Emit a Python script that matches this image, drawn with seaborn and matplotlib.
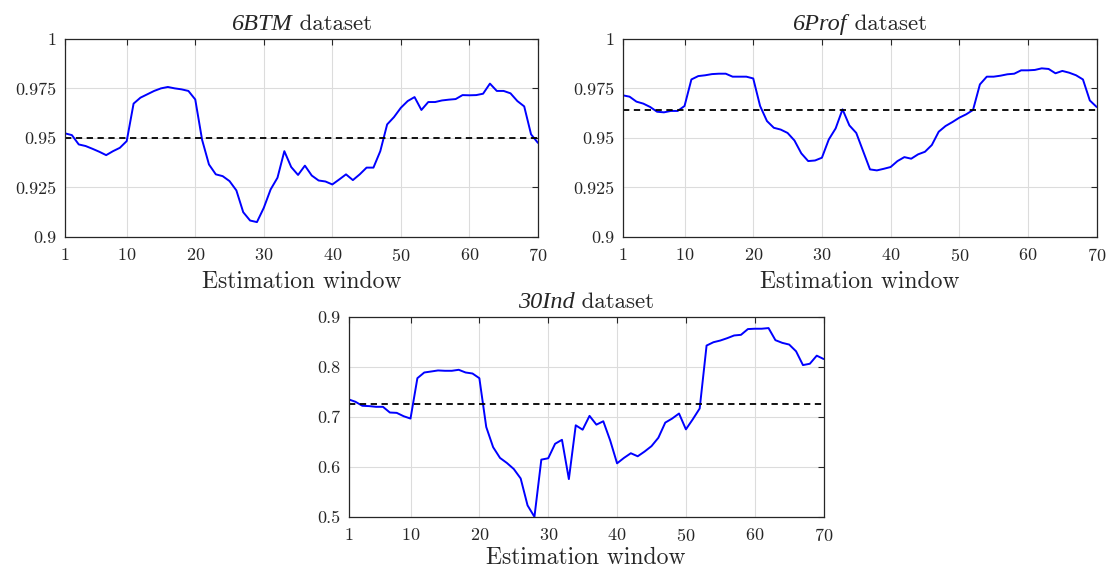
import numpy as np
import pandas as pd
import matplotlib
matplotlib.use('Agg')
import matplotlib.pyplot as plt
from matplotlib.ticker import FuncFormatter
from matplotlib.offsetbox import TextArea, HPacker, AnchoredOffsetbox
import seaborn as sns

# estimation window index
windows = list(range(1, 71))

btm_vals = [0.9523, 0.9514, 0.9467, 0.9459, 0.9445, 0.9430, 0.9413, 0.9433, 0.9450, 0.9484,
            0.9673, 0.9703, 0.9720, 0.9737, 0.9750, 0.9757, 0.9750, 0.9745, 0.9737, 0.9694,
            0.9490, 0.9366, 0.9316, 0.9307, 0.9282, 0.9235, 0.9125, 0.9083, 0.9075, 0.9147,
            0.9240, 0.9299, 0.9433, 0.9353, 0.9313, 0.9360, 0.9310, 0.9285, 0.9280, 0.9265,
            0.9290, 0.9316, 0.9287, 0.9316, 0.9350, 0.9350, 0.9433, 0.9568, 0.9605, 0.9652,
            0.9686, 0.9706, 0.9641, 0.9681, 0.9681, 0.9689, 0.9693, 0.9696, 0.9716, 0.9715,
            0.9716, 0.9723, 0.9774, 0.9737, 0.9737, 0.9725, 0.9686, 0.9659, 0.9518, 0.9475]
btm_ref = 0.95

prof_vals = [0.9715, 0.9708, 0.9683, 0.9673, 0.9656, 0.9632, 0.9629, 0.9636, 0.9636, 0.9661,
             0.9795, 0.9812, 0.9816, 0.9822, 0.9824, 0.9824, 0.9809, 0.9809, 0.9809, 0.9800,
             0.9661, 0.9585, 0.9551, 0.9542, 0.9525, 0.9487, 0.9422, 0.9383, 0.9386, 0.9400,
             0.9492, 0.9548, 0.9644, 0.9563, 0.9525, 0.9433, 0.9341, 0.9336, 0.9344, 0.9353,
             0.9383, 0.9403, 0.9395, 0.9417, 0.9430, 0.9464, 0.9531, 0.9560, 0.9580, 0.9602,
             0.9619, 0.9641, 0.9770, 0.9809, 0.9809, 0.9814, 0.9821, 0.9824, 0.9841, 0.9841,
             0.9843, 0.9851, 0.9848, 0.9826, 0.9838, 0.9829, 0.9816, 0.9795, 0.9689, 0.9656]
prof_ref = 0.9641

ind_vals = [0.7354, 0.7306, 0.7226, 0.7219, 0.7205, 0.7205, 0.7091, 0.7084, 0.7017, 0.6970,
            0.7778, 0.7892, 0.7912, 0.7933, 0.7926, 0.7926, 0.7946, 0.7892, 0.7872, 0.7778,
            0.6801, 0.6397, 0.6182, 0.6081, 0.5960, 0.5771, 0.5232, 0.5003, 0.6148, 0.6175,
            0.6465, 0.6545, 0.5758, 0.6835, 0.6747, 0.7024, 0.6848, 0.6916, 0.6532, 0.6074,
            0.6182, 0.6276, 0.6215, 0.6310, 0.6418, 0.6586, 0.6889, 0.6970, 0.7071, 0.6754,
            0.6956, 0.7172, 0.8431, 0.8498, 0.8532, 0.8579, 0.8633, 0.8646, 0.8761, 0.8768,
            0.8768, 0.8781, 0.8539, 0.8485, 0.8451, 0.8316, 0.8040, 0.8067, 0.8229, 0.8162]
ind_ref = 0.7259

x_ticks = [1, 10, 20, 30, 40, 50, 60, 70]
y_ticks_top = [0.9, 0.925, 0.95, 0.975, 1.0]
y_ticks_bottom = [0.5, 0.6, 0.7, 0.8, 0.9]

sns.set_style('whitegrid')
plt.rcParams['font.family'] = ['cmr10']
plt.rcParams['mathtext.fontset'] = 'cm'
plt.rcParams['axes.formatter.use_mathtext'] = True

fig = plt.figure(figsize=(11.1, 5.71), dpi=100)
ax1 = fig.add_axes([0.0586, 0.585, 0.426, 0.347])
ax2 = fig.add_axes([0.561, 0.585, 0.427, 0.347])
ax3 = fig.add_axes([0.314, 0.0946, 0.428, 0.350])

panels = [
    (ax1, btm_vals, btm_ref, '6BTM', y_ticks_top, 5),
    (ax2, prof_vals, prof_ref, '6Prof', y_ticks_top, 5),
    (ax3, ind_vals, ind_ref, '30Ind', y_ticks_bottom, 2),
]

for ax, vals, ref, name, yt, lpad in panels:
    df = pd.DataFrame({'window': windows, 'value': vals})
    sns.lineplot(data=df, x='window', y='value', ax=ax, color='#0000ff', linewidth=1.4)
    ax.axhline(ref, color='black', linestyle=(0, (3.5, 2.5)), linewidth=1.3)
    ax.set_xlim(1, 70)
    ax.set_ylim(yt[0], yt[-1])
    ax.set_xticks(x_ticks)
    ax.set_yticks(yt)
    ax.yaxis.set_major_formatter(FuncFormatter(lambda v, p: '%g' % v))
    ax.set_xlabel('Estimation window', fontsize=17, labelpad=lpad)
    ax.set_ylabel('')
    ax.tick_params(labelsize=13, direction='in', length=4, width=0.8,
                   top=True, right=True, color='#262626', pad=7)
    ax.tick_params(axis='y', pad=6)
    ax.grid(True, color='#dcdcdc', linewidth=0.8)
    for s in ax.spines.values():
        s.set_color('#262626')
        s.set_linewidth(0.9)

    # title: italic dataset name followed by upright "dataset"
    part1 = TextArea(name, textprops=dict(family='Liberation Serif', style='italic', size=17.5))
    part2 = TextArea(' dataset', textprops=dict(size=16.5))
    box = HPacker(children=[part1, part2], align='baseline', pad=0, sep=0)
    anchored = AnchoredOffsetbox(loc='lower center', child=box, pad=0, borderpad=0,
                                 frameon=False, bbox_to_anchor=(0.5, 1.02),
                                 bbox_transform=ax.transAxes)
    ax.add_artist(anchored)

fig.savefig('out.png', dpi=100)
